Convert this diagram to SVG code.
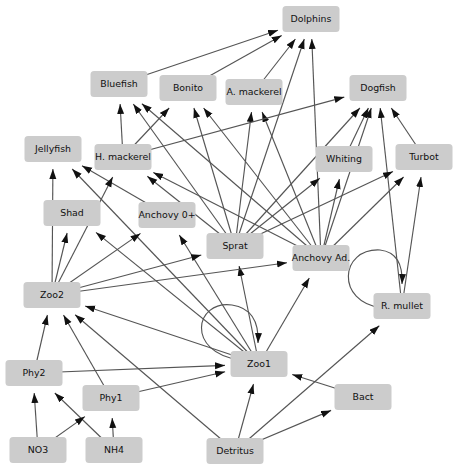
<svg xmlns="http://www.w3.org/2000/svg" width="454" height="470" viewBox="0 0 454 470">
<style>
.e line, .e path { stroke: #555555; stroke-width: 1.15; fill: none; marker-end: url(#ah); }
.n rect { fill: #cccccc; }
.n text { font-family: "DejaVu Sans", "Liberation Sans", sans-serif; font-size: 9.4px; fill: #111; text-anchor: middle; }
</style>
<defs>
<marker id="ah" markerUnits="userSpaceOnUse" markerWidth="11" markerHeight="8" refX="10" refY="3.5" orient="auto">
<path d="M0,0 L10,3.5 L0,7 z" fill="#111111"/>
</marker>
</defs>
<rect width="454" height="470" fill="#ffffff"/>
<g id="connectors" class="e">
<line x1="119" y1="84" x2="278" y2="30.2"/>
<line x1="188" y1="88" x2="281.7" y2="35.4"/>
<line x1="254" y1="92" x2="295.4" y2="39"/>
<line x1="235" y1="246" x2="304.3" y2="39"/>
<line x1="321" y1="258" x2="311.8" y2="39"/>
<line x1="123" y1="157" x2="120.1" y2="104"/>
<line x1="235" y1="246" x2="133.3" y2="104"/>
<line x1="321" y1="258" x2="141.9" y2="103.7"/>
<line x1="123" y1="157" x2="169.2" y2="108"/>
<line x1="235" y1="246" x2="193.9" y2="108"/>
<line x1="321" y1="258" x2="203.6" y2="108"/>
<line x1="235" y1="246" x2="251.5" y2="112"/>
<line x1="321" y1="258" x2="262.1" y2="112"/>
<line x1="123" y1="157" x2="344.3" y2="97.1"/>
<line x1="235" y1="246" x2="359.9" y2="108"/>
<line x1="344" y1="159" x2="368.4" y2="108"/>
<line x1="321" y1="258" x2="371.3" y2="108"/>
<line x1="402" y1="306" x2="380.2" y2="108"/>
<line x1="424" y1="157" x2="391.3" y2="108"/>
<line x1="235" y1="246" x2="319.8" y2="178.3"/>
<line x1="321" y1="258" x2="339.4" y2="179"/>
<line x1="235" y1="246" x2="393" y2="171.6"/>
<line x1="321" y1="258" x2="403.6" y2="177"/>
<line x1="402" y1="306" x2="421" y2="177"/>
<line x1="52" y1="295" x2="52.9" y2="169"/>
<line x1="259" y1="364" x2="72.2" y2="169"/>
<line x1="167" y1="215" x2="82" y2="165.8"/>
<line x1="52" y1="295" x2="112.7" y2="177"/>
<line x1="235" y1="246" x2="147.3" y2="176.3"/>
<line x1="321" y1="258" x2="153.3" y2="172.5"/>
<line x1="52" y1="295" x2="67.1" y2="233"/>
<line x1="259" y1="364" x2="96" y2="232.4"/>
<line x1="52" y1="295" x2="140.5" y2="233.4"/>
<line x1="259" y1="364" x2="179.3" y2="235"/>
<line x1="52" y1="295" x2="201.3" y2="255"/>
<line x1="259" y1="364" x2="239.1" y2="266"/>
<line x1="52" y1="295" x2="287" y2="262.7"/>
<line x1="259" y1="364" x2="309.3" y2="278"/>
<line x1="34" y1="373" x2="47.4" y2="315"/>
<line x1="111" y1="398" x2="63.5" y2="315"/>
<line x1="235" y1="451" x2="75.1" y2="314.7"/>
<line x1="259" y1="364" x2="85.1" y2="306"/>
<line x1="34" y1="373" x2="225" y2="365.4"/>
<line x1="111" y1="398" x2="225.1" y2="371.8"/>
<line x1="363" y1="397" x2="292.2" y2="374.5"/>
<line x1="235" y1="451" x2="253.5" y2="384"/>
<line x1="235" y1="451" x2="331.1" y2="410.4"/>
<line x1="235" y1="451" x2="379.3" y2="325.7"/>
<line x1="38" y1="450" x2="34.2" y2="393"/>
<line x1="114" y1="450" x2="54.8" y2="393"/>
<line x1="38" y1="450" x2="84.9" y2="416.6"/>
<line x1="114" y1="450" x2="112.2" y2="418"/>
<path d="M240,360 C185,352 195,300 232,305 C252,308 259,322 258,343"/>
<path d="M382,308 C335,302 340,248 380,250 C397,252 403,265 402,284"/>
</g>
<g id="Dolphins" class="n"><rect x="282.5" y="6" width="57" height="26" rx="3.5"/><text x="311" y="22.4">Dolphins</text></g>
<g id="Bluefish" class="n"><rect x="90.5" y="71" width="57" height="26" rx="3.5"/><text x="119" y="87.4">Bluefish</text></g>
<g id="Bonito" class="n"><rect x="159.5" y="75" width="57" height="26" rx="3.5"/><text x="188" y="91.4">Bonito</text></g>
<g id="A_mackerel" class="n"><rect x="225.5" y="79" width="57" height="26" rx="3.5"/><text x="254" y="95.4">A. mackerel</text></g>
<g id="Dogfish" class="n"><rect x="349.5" y="75" width="57" height="26" rx="3.5"/><text x="378" y="91.4">Dogfish</text></g>
<g id="Jellyfish" class="n"><rect x="24.5" y="136" width="57" height="26" rx="3.5"/><text x="53" y="152.4">Jellyfish</text></g>
<g id="H_mackerel" class="n"><rect x="94.5" y="144" width="57" height="26" rx="3.5"/><text x="123" y="160.4">H. mackerel</text></g>
<g id="Whiting" class="n"><rect x="315.5" y="146" width="57" height="26" rx="3.5"/><text x="344" y="162.4">Whiting</text></g>
<g id="Turbot" class="n"><rect x="395.5" y="144" width="57" height="26" rx="3.5"/><text x="424" y="160.4">Turbot</text></g>
<g id="Shad" class="n"><rect x="43.5" y="200" width="57" height="26" rx="3.5"/><text x="72" y="216.4">Shad</text></g>
<g id="Anchovy_0" class="n"><rect x="138.5" y="202" width="57" height="26" rx="3.5"/><text x="167" y="218.4">Anchovy 0+</text></g>
<g id="Sprat" class="n"><rect x="206.5" y="233" width="57" height="26" rx="3.5"/><text x="235" y="249.4">Sprat</text></g>
<g id="Anchovy_Ad" class="n"><rect x="292.5" y="245" width="57" height="26" rx="3.5"/><text x="321" y="261.4">Anchovy Ad.</text></g>
<g id="Zoo2" class="n"><rect x="23.5" y="282" width="57" height="26" rx="3.5"/><text x="52" y="298.4">Zoo2</text></g>
<g id="R_mullet" class="n"><rect x="373.5" y="293" width="57" height="26" rx="3.5"/><text x="402" y="309.4">R. mullet</text></g>
<g id="Zoo1" class="n"><rect x="230.5" y="351" width="57" height="26" rx="3.5"/><text x="259" y="367.4">Zoo1</text></g>
<g id="Phy2" class="n"><rect x="5.5" y="360" width="57" height="26" rx="3.5"/><text x="34" y="376.4">Phy2</text></g>
<g id="Phy1" class="n"><rect x="82.5" y="385" width="57" height="26" rx="3.5"/><text x="111" y="401.4">Phy1</text></g>
<g id="Bact" class="n"><rect x="334.5" y="384" width="57" height="26" rx="3.5"/><text x="363" y="400.4">Bact</text></g>
<g id="NO3" class="n"><rect x="9.5" y="437" width="57" height="26" rx="3.5"/><text x="38" y="453.4">NO3</text></g>
<g id="NH4" class="n"><rect x="85.5" y="437" width="57" height="26" rx="3.5"/><text x="114" y="453.4">NH4</text></g>
<g id="Detritus" class="n"><rect x="206.5" y="438" width="57" height="26" rx="3.5"/><text x="235" y="454.4">Detritus</text></g>
</svg>
